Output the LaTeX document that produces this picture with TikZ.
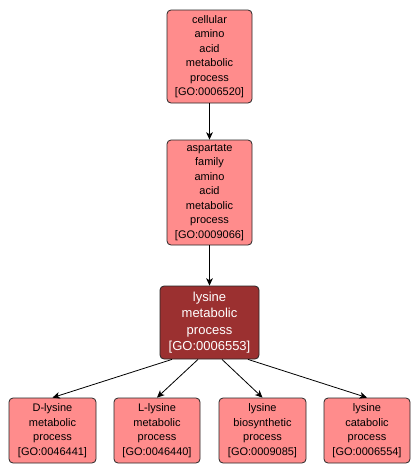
\documentclass[tikz,border=0pt]{standalone}
\usepackage{fontspec}
\setmainfont{Liberation Sans}
\usetikzlibrary{arrows.meta,calc}
\definecolor{lightgo}{RGB}{255,140,140}
\definecolor{darkgo}{RGB}{155,48,48}
\tikzset{
  goterm/.style={draw=black!85, line width=0.6pt, fill=lightgo, rounded corners=3pt,
    align=center, inner sep=0pt, font=\fontsize{8.25pt}{10.9pt}\selectfont, text=black},
  goterm dark/.style={goterm, fill=darkgo, text=white, font=\fontsize{9.75pt}{12.2pt}\selectfont},
  isa/.style={draw=black, line width=0.6pt, -{Stealth[length=5.5pt,width=5pt,inset=1.5pt]}}
}
\begin{document}
\begin{tikzpicture}[x=0.75pt,y=-0.75pt]
\useasboundingbox (0,0) rectangle (420,475);
\node[goterm, minimum width=85*0.75pt, minimum height=93*0.75pt] (n1) at (209.5,56.5)
  {cellular\\amino\\acid\\metabolic\\process\\{[GO:0006520]}};
\node[goterm, minimum width=85*0.75pt, minimum height=105*0.75pt] (n2) at (209.5,192.5)
  {aspartate\\family\\amino\\acid\\metabolic\\process\\{[GO:0009066]}};
\node[goterm dark, minimum width=99*0.75pt, minimum height=73*0.75pt] (n3) at (209.5,322.5)
  {lysine\\metabolic\\process\\{[GO:0006553]}};
\node[goterm, minimum width=87*0.75pt, minimum height=65*0.75pt] (n4) at (52.5,430.5)
  {D-lysine\\metabolic\\process\\{[GO:0046441]}};
\node[goterm, minimum width=86*0.75pt, minimum height=65*0.75pt] (n5) at (157,430.5)
  {L-lysine\\metabolic\\process\\{[GO:0046440]}};
\node[goterm, minimum width=87*0.75pt, minimum height=65*0.75pt] (n6) at (262.5,430.5)
  {lysine\\biosynthetic\\process\\{[GO:0009085]}};
\node[goterm, minimum width=86*0.75pt, minimum height=65*0.75pt] (n7) at (367,430.5)
  {lysine\\catabolic\\process\\{[GO:0006554]}};
\draw[isa] (n1.south) -- (n2.north);
\draw[isa] (n2.south) -- (n3.north);
\draw[isa] ($(n3.south)+(-37.5,0)$) -- (n4.north);
\draw[isa] ($(n3.south)+(-11.5,0)$) -- (n5.north);
\draw[isa] ($(n3.south)+(12.5,0)$) -- (n6.north);
\draw[isa] ($(n3.south)+(38.5,0)$) -- (n7.north);
\end{tikzpicture}
\end{document}
